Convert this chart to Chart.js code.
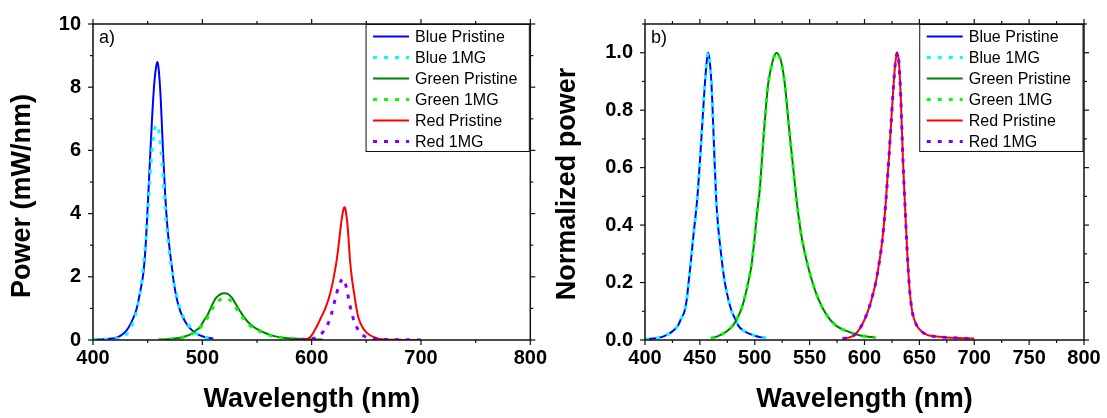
<!DOCTYPE html>
<html>
<head>
<meta charset="utf-8">
<title>LED spectra</title>
<script src="https://cdn.jsdelivr.net/npm/chart.js@4.4.1/dist/chart.umd.min.js"></script>
<style>
  body { margin: 0; background: #fff; }
  #wrap { position: relative; width: 1107px; height: 418px; }
  #panel-a { position: absolute; left: 0; top: 0; }
  #panel-b { position: absolute; left: 553px; top: 0; }
</style>
</head>
<body>
<div id="wrap">
  <canvas id="panel-a" width="553" height="418"></canvas>
  <canvas id="panel-b" width="554" height="418"></canvas>
</div>
<script>
// ---- data: [wavelength nm, value] ----
const seriesNames = ['Blue Pristine', 'Blue 1MG', 'Green Pristine', 'Green 1MG', 'Red Pristine', 'Red 1MG'];

// panel a) absolute power (mW/nm)
const bluePristineA = [[400,0.01],[410,0.02],[415,0.04],[420,0.06],[425,0.13],[430,0.27],[435,0.55],[440,1.0],[443,1.5],[446,2.1],[448,2.9],[450,4.2],[452,5.6],[454,7.0],[456,8.1],[458,8.7],[459,8.8],[460,8.6],[462,7.6],[464,6.0],[466,4.6],[468,3.6],[470,2.9],[472,2.35],[474,1.8],[477,1.25],[480,0.9],[484,0.6],[488,0.4],[492,0.27],[496,0.18],[500,0.12],[505,0.07],[510,0.05]];
const blue1mgA = [[400,0.01],[410,0.02],[415,0.03],[420,0.04],[423,0.05],[427,0.1],[431,0.2],[434,0.35],[437,0.58],[440,0.95],[444,1.7],[447,2.7],[449,3.45],[451,4.5],[453,5.55],[455,6.35],[457,6.75],[459,6.8],[461,6.4],[463,5.65],[465,4.7],[467,3.7],[469,3.0],[471,2.45],[474,1.85],[477,1.35],[480,0.95],[485,0.6],[490,0.35],[495,0.2],[500,0.12],[505,0.07],[510,0.05]];
const greenPristineA = [[460,0.01],[464,0.015],[468,0.024],[472,0.036],[476,0.052],[480,0.074],[484,0.11],[488,0.16],[491,0.22],[494,0.3],[497,0.38],[500,0.53],[502,0.65],[504.5,0.77],[507.5,1.0],[510,1.18],[512,1.31],[515,1.41],[518,1.47],[520,1.48],[522,1.47],[524,1.44],[526,1.38],[528,1.29],[530,1.17],[532,1.05],[535,0.89],[538,0.73],[542,0.56],[547,0.41],[551.5,0.32],[557.5,0.22],[565,0.13],[574,0.074],[586,0.041],[598,0.021],[610,0.013]];
const green1mgA = [[460,0.008],[464,0.013],[468,0.021],[472,0.032],[476,0.046],[480,0.066],[484,0.1],[488,0.145],[491,0.2],[494,0.26],[497,0.34],[500,0.47],[502,0.58],[504.5,0.69],[507.5,0.88],[510,1.04],[512,1.15],[515,1.25],[518,1.3],[520,1.32],[522,1.315],[524,1.29],[526,1.24],[528,1.16],[530,1.06],[532,0.95],[535,0.8],[538,0.66],[542,0.5],[547,0.37],[551.5,0.285],[557.5,0.195],[565,0.12],[574,0.066],[586,0.037],[598,0.019],[610,0.012]];
const redPristineA = [[580,0.0],[590,0.01],[594,0.02],[597,0.05],[600,0.15],[602,0.26],[605,0.45],[608,0.67],[611,0.88],[613,1.05],[615.5,1.3],[618,1.62],[620,1.95],[623,2.55],[625,3.1],[627,3.7],[629,4.12],[630,4.2],[631,4.12],[633,3.55],[635.2,2.47],[637,1.9],[639,1.44],[641,1.0],[642.7,0.72],[645,0.5],[647.3,0.36],[650,0.24],[653.4,0.15],[658,0.08],[664,0.02],[675,0.01],[685,0.0],[700,0.0]];
const red1mgA = [[580,0.0],[590,0.01],[597,0.03],[601,0.05],[604.8,0.08],[608,0.16],[610,0.24],[613,0.36],[616,0.6],[618,0.8],[620,1.08],[623,1.49],[625,1.72],[627,1.88],[628.5,1.94],[630,1.88],[631.5,1.7],[633.6,1.34],[635,1.1],[637,0.82],[639,0.57],[641,0.42],[644,0.23],[647,0.14],[650,0.09],[654.8,0.05],[660,0.03],[670,0.015],[680,0.01],[690,0.005],[700,0.0]];

// panel b) normalized power (pristine and 1MG lie on top of each other)
const blueNormB = [[400,0.003],[410,0.006],[415,0.01],[420,0.018],[425,0.03],[430,0.05],[433,0.075],[436,0.1],[438,0.14],[440,0.21],[442,0.28],[444,0.36],[446,0.43],[448,0.51],[450,0.62],[452,0.74],[454,0.86],[456,0.96],[457.5,1.0],[459,0.97],[461,0.86],[463,0.66],[465,0.48],[467,0.38],[469,0.31],[471,0.245],[473,0.195],[476,0.14],[479,0.1],[482,0.075],[485,0.05],[490,0.032],[495,0.022],[500,0.015],[505,0.01],[510,0.008]];
const greenNormB = [[460,0.006],[464,0.01],[468,0.016],[472,0.024],[476,0.035],[480,0.05],[484,0.075],[488,0.11],[491,0.15],[494,0.2],[497,0.26],[500,0.36],[502,0.44],[504.5,0.52],[507.5,0.68],[510,0.8],[512,0.885],[515,0.95],[518,0.99],[520,1.0],[522,0.99],[524,0.97],[526,0.93],[528,0.87],[530,0.79],[532,0.71],[535,0.6],[538,0.49],[542,0.375],[547,0.28],[551.5,0.215],[557.5,0.147],[565,0.09],[574,0.05],[586,0.028],[598,0.014],[610,0.009]];
const redNormB = [[580,0.005],[585,0.008],[590,0.015],[594,0.03],[598,0.055],[601,0.08],[604,0.11],[607,0.15],[610,0.195],[613,0.26],[616,0.34],[619,0.46],[622,0.62],[624,0.74],[626,0.86],[628,0.96],[630,1.0],[631,0.98],[632,0.93],[633,0.85],[635,0.63],[637,0.46],[639,0.3],[641,0.18],[643,0.11],[645,0.075],[648,0.048],[652,0.03],[657,0.018],[665,0.012],[675,0.009],[685,0.007],[700,0.005]];

// tick labels
const xTicksA = [400, 500, 600, 700, 800];
const yTicksA = [0, 2, 4, 6, 8, 10];
const xTicksB = [400, 450, 500, 550, 600, 650, 700, 750, 800];
const yTicksB = [0, 0.2, 0.4, 0.6, 0.8, 1.0];

// ---- styling ----
const FONT = '"Liberation Sans", Arial, sans-serif';
const seriesColors = ['#0000ff', '#00ffff', '#008000', '#00ff00', '#ff0000', '#8000ff'];

function makeDatasets(list) {
    return list.map((pts, i) => {
        const dotted = i % 2 === 1;
        return {
            label: seriesNames[i],
            data: pts.map(p => ({ x: p[0], y: p[1] })),
            borderColor: seriesColors[i],
            borderWidth: dotted ? 3 : 2,
            borderDash: dotted ? [4, 7] : [],
            pointRadius: 0,
            fill: false,
            cubicInterpolationMode: 'monotone',
            order: 5 - i   // later series painted on top
        };
    });
}

// box frame with outward major/minor ticks, panel tag, y title and boxed legend
const framePlugin = {
    id: 'frame',
    afterDatasetsDraw(chart, args, opts) {
        const { ctx, chartArea: { left, right, top, bottom }, scales: { x, y } } = chart;
        ctx.save();
        ctx.strokeStyle = '#111';
        ctx.lineWidth = 1.5;
        ctx.strokeRect(left, top, right - left, bottom - top);

        ctx.lineWidth = 1.2;
        const stroke = (x1, y1, x2, y2) => {
            ctx.beginPath(); ctx.moveTo(x1, y1); ctx.lineTo(x2, y2); ctx.stroke();
        };
        const eachTick = (scale, minor, majors, fn) => {
            const n = Math.round((scale.max - scale.min) / minor);
            for (let i = 0; i <= n; i++) {
                const v = scale.min + i * minor;
                const major = majors.some(m => Math.abs(m - v) < 1e-6);
                fn(scale.getPixelForValue(v), major ? 5 : 3);
            }
        };
        eachTick(x, opts.xMinor, opts.xMajor, (p, len) => {
            stroke(p, bottom, p, bottom + len);
            stroke(p, top, p, top - len);
        });
        eachTick(y, opts.yMinor, opts.yMajor, (p, len) => {
            stroke(left, p, left - len, p);
            stroke(right, p, right + len, p);
        });

        // y axis title (Origin puts it off-centre, so place it by hand)
        ctx.fillStyle = '#000';
        ctx.save();
        ctx.translate(opts.yTitleX, opts.yTitleY);
        ctx.rotate(-Math.PI / 2);
        ctx.font = 'bold 27px ' + FONT;
        ctx.textAlign = 'center';
        ctx.textBaseline = 'middle';
        ctx.fillText(opts.yTitle, 0, 0);
        ctx.restore();

        // panel tag
        ctx.font = '18px ' + FONT;
        ctx.textBaseline = 'middle';
        ctx.textAlign = 'left';
        ctx.fillText(opts.tag, left + 6, top + 14);

        // legend
        ctx.font = '16px ' + FONT;
        const sets = chart.data.datasets;
        const textW = Math.max(...sets.map(d => ctx.measureText(d.label).width));
        const boxW = 49 + textW + 12;
        const boxR = right - 1;
        const boxL = boxR - boxW;
        const boxT = top + 0.5;
        const rowH = 21;
        ctx.fillStyle = '#fff';
        ctx.fillRect(boxL, boxT, boxW, rowH * sets.length + 1);
        ctx.strokeStyle = '#111';
        ctx.lineWidth = 1;
        ctx.strokeRect(boxL, boxT, boxW, rowH * sets.length + 1);
        sets.forEach((d, i) => {
            const cy = boxT + 12 + i * rowH;
            ctx.strokeStyle = d.borderColor;
            ctx.lineWidth = d.borderWidth;
            ctx.setLineDash(d.borderDash);
            stroke(boxL + 7, cy, boxL + 43, cy);
            ctx.setLineDash([]);
            ctx.fillStyle = '#000';
            ctx.fillText(d.label, boxL + 49, cy + 1);
        });
        ctx.restore();
    }
};

function makeChart(id, datasets, cfg) {
    const tickFont = { family: FONT, size: 20, weight: 'bold' };
    const titleFont = { family: FONT, size: 27, weight: 'bold' };
    return new Chart(document.getElementById(id), {
        type: 'line',
        data: { datasets: datasets },
        options: {
            responsive: false,
            animation: false,
            layout: { padding: { top: 16, right: cfg.padRight, left: 0, bottom: 0 } },
            plugins: {
                legend: { display: false },
                tooltip: { enabled: false },
                frame: {
                    tag: cfg.tag,
                    yTitle: cfg.yTitle, yTitleX: cfg.yTitleX, yTitleY: cfg.yTitleY,
                    xMajor: cfg.xTicks, xMinor: cfg.xMinor,
                    yMajor: cfg.yTicks, yMinor: cfg.yMinor
                }
            },
            scales: {
                x: {
                    type: 'linear',
                    min: 400,
                    max: 800,
                    grid: { display: false, drawTicks: false },
                    border: { display: false },
                    afterBuildTicks: s => { s.ticks = cfg.xTicks.map(v => ({ value: v })); },
                    afterFit: s => { s.height = 78; },
                    ticks: { padding: 6, color: '#000', font: tickFont, maxRotation: 0, autoSkip: false },
                    title: {
                        display: true,
                        text: 'Wavelength (nm)',
                        color: '#000',
                        font: titleFont,
                        padding: { top: 0, bottom: 2 }
                    }
                },
                y: {
                    type: 'linear',
                    min: 0,
                    max: cfg.yMax,
                    grid: { display: false, drawTicks: false },
                    border: { display: false },
                    afterBuildTicks: s => { s.ticks = cfg.yTicks.map(v => ({ value: v })); },
                    afterFit: s => { s.width = cfg.yWidth; },
                    ticks: {
                        padding: 12,
                        color: '#000',
                        font: tickFont,
                        autoSkip: false,
                        callback: cfg.yFormat
                    }
                }
            }
        },
        plugins: [framePlugin]
    });
}

makeChart('panel-a',
    makeDatasets([bluePristineA, blue1mgA, greenPristineA, green1mgA, redPristineA, red1mgA]),
    {
        tag: 'a)', yTitle: 'Power (mW/nm)', yTitleX: 23, yTitleY: 196, yMax: 10,
        xTicks: xTicksA, xMinor: 50, yTicks: yTicksA, yMinor: 1,
        yWidth: 93, padRight: 20,
        yFormat: v => String(v)
    });

makeChart('panel-b',
    makeDatasets([blueNormB, blueNormB, greenNormB, greenNormB, redNormB, redNormB]),
    {
        tag: 'b)', yTitle: 'Normalized power', yTitleX: 15, yTitleY: 184, yMax: 1.1,
        xTicks: xTicksB, xMinor: 25, yTicks: yTicksB, yMinor: 0.1,
        yWidth: 92, padRight: 23,
        yFormat: v => v.toFixed(1)
    });
</script>
</body>
</html>
